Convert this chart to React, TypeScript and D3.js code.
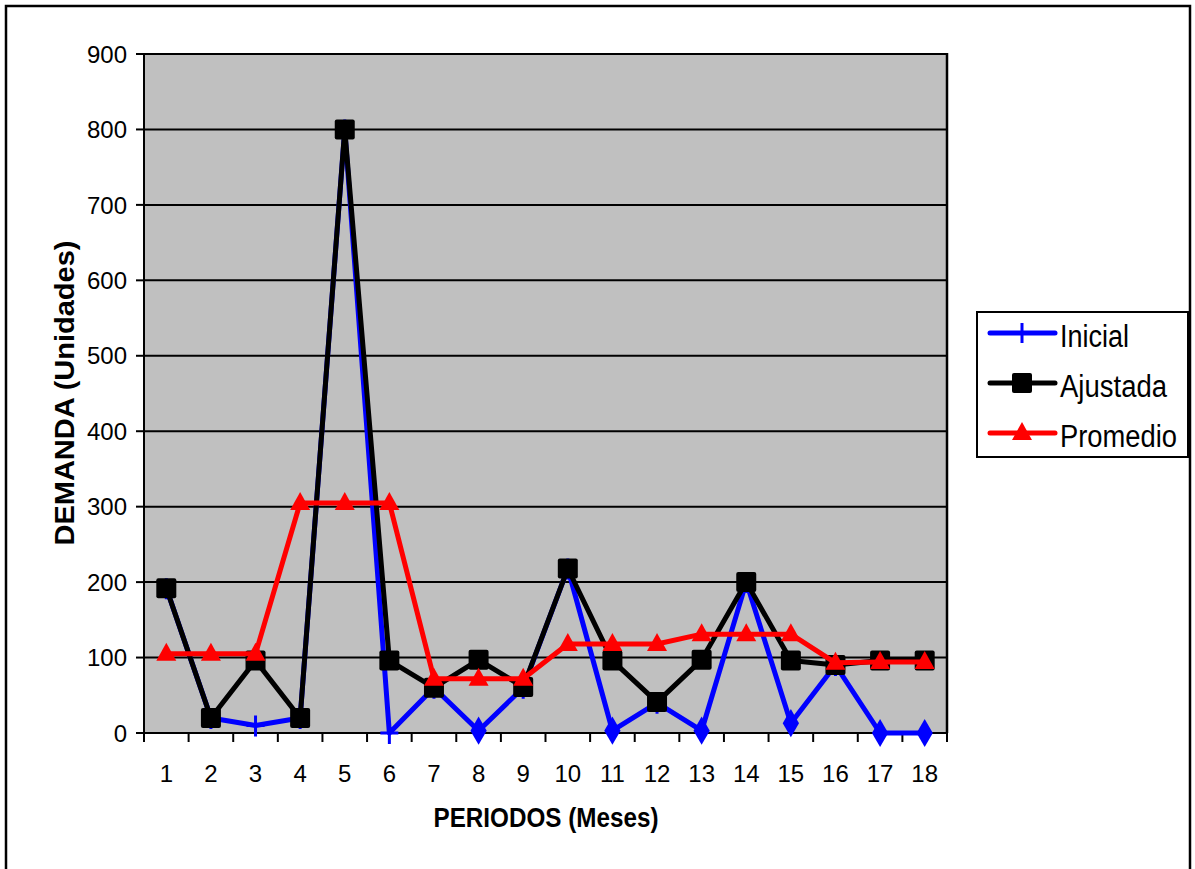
import React, { useEffect, useRef } from 'react';
import * as d3 from 'd3';

const periods = ['1', '2', '3', '4', '5', '6', '7', '8', '9', '10', '11', '12', '13', '14', '15', '16', '17', '18'];
const inicial = [192, 20, 10, 20, 800, 0, 60, 3, 60, 218, 3, 40, 3, 200, 13, 90, 0, 0];
const ajustada = [192, 20, 96, 20, 800, 96, 60, 97, 61, 218, 96, 41, 97, 200, 96, 90, 96, 96];
const promedio = [105, 105, 105, 305, 305, 305, 72, 72, 72, 118, 118, 118, 131, 131, 131, 93, 94, 94];
// periods where the Inicial point is drawn with a diamond instead of a plus
const diamondPeriods = ['8', '11', '13', '15', '17', '18'];
const yTicks = [0, 100, 200, 300, 400, 500, 600, 700, 800, 900];
const seriesNames = ['Inicial', 'Ajustada', 'Promedio'];

const FONT = '"Liberation Sans", Arial, sans-serif';

export default function App() {
  const svgRef = useRef<SVGSVGElement>(null);

  useEffect(() => {
    if (!svgRef.current) return;
    const W = 1195;
    const H = 869;
    const plot = { left: 144, right: 947, top: 54, bottom: 733 };

    d3.select(svgRef.current).selectAll('*').remove();
    const svg = d3.select(svgRef.current).attr('width', W).attr('height', H);

    // outer frame (bottom edge falls outside the picture)
    svg.append('path')
      .attr('d', `M6,${H + 5} V6 H1190 V${H + 5}`)
      .attr('fill', 'none')
      .attr('stroke', '#000')
      .attr('stroke-width', 2.5);

    const x = d3.scaleBand<string>().domain(periods).range([plot.left, plot.right]);
    const y = d3.scaleLinear().domain([0, 900]).range([plot.bottom, plot.top]);
    const cx = (p: string) => (x(p) as number) + x.bandwidth() / 2;

    // plot background
    svg.append('rect')
      .attr('x', plot.left)
      .attr('y', plot.top)
      .attr('width', plot.right - plot.left)
      .attr('height', plot.bottom - plot.top)
      .attr('fill', '#c0c0c0');

    // gridlines
    svg.append('g')
      .selectAll('line')
      .data(yTicks)
      .enter()
      .append('line')
      .attr('x1', plot.left)
      .attr('x2', plot.right)
      .attr('y1', d => y(d))
      .attr('y2', d => y(d))
      .attr('stroke', '#000')
      .attr('stroke-width', 2);

    // plot border right side
    svg.append('line')
      .attr('x1', plot.right).attr('x2', plot.right)
      .attr('y1', plot.top - 1).attr('y2', plot.bottom)
      .attr('stroke', '#000').attr('stroke-width', 2.5);

    // y axis
    const yAxis = svg.append('g');
    yAxis.append('line')
      .attr('x1', plot.left).attr('x2', plot.left)
      .attr('y1', plot.top - 1).attr('y2', plot.bottom + 1)
      .attr('stroke', '#000').attr('stroke-width', 2);
    yAxis.selectAll('line.tick')
      .data(yTicks)
      .enter()
      .append('line')
      .attr('class', 'tick')
      .attr('x1', plot.left - 8).attr('x2', plot.left)
      .attr('y1', d => y(d)).attr('y2', d => y(d))
      .attr('stroke', '#000').attr('stroke-width', 2);
    yAxis.selectAll('text')
      .data(yTicks)
      .enter()
      .append('text')
      .attr('x', 127)
      .attr('y', d => y(d))
      .attr('dy', '0.36em')
      .attr('text-anchor', 'end')
      .style('font-family', FONT)
      .style('font-size', '24px')
      .text(d => d);

    // x axis
    const xAxis = svg.append('g');
    const bounds = periods.map(p => x(p) as number).concat([plot.right]);
    xAxis.selectAll('line')
      .data(bounds)
      .enter()
      .append('line')
      .attr('x1', d => d).attr('x2', d => d)
      .attr('y1', plot.bottom).attr('y2', plot.bottom + 9)
      .attr('stroke', '#000').attr('stroke-width', 2);
    xAxis.selectAll('text')
      .data(periods)
      .enter()
      .append('text')
      .attr('x', d => cx(d))
      .attr('y', 773)
      .attr('dy', '0.36em')
      .attr('text-anchor', 'middle')
      .style('font-family', FONT)
      .style('font-size', '24px')
      .text(d => d);

    // axis titles
    svg.append('text')
      .attr('x', 546)
      .attr('y', 817)
      .attr('dy', '0.36em')
      .attr('text-anchor', 'middle')
      .attr('textLength', 225)
      .attr('lengthAdjust', 'spacingAndGlyphs')
      .style('font-family', FONT)
      .style('font-size', '27px')
      .style('font-weight', 'bold')
      .text('PERIODOS (Meses)');

    svg.append('text')
      .attr('transform', 'translate(64,393) rotate(-90)')
      .attr('dy', '0.36em')
      .attr('text-anchor', 'middle')
      .attr('textLength', 305)
      .attr('lengthAdjust', 'spacingAndGlyphs')
      .style('font-family', FONT)
      .style('font-size', '28px')
      .style('font-weight', 'bold')
      .text('DEMANDA (Unidades)');

    const line = (vals: number[]) =>
      d3.line<string>().x(d => cx(d)).y((_, i) => y(vals[i]))(periods) as string;

    const diamond = d3.symbol().type(d3.symbolDiamond).size(230);
    const triangle = 'M0,-11 L10,7 L-10,7 Z';

    // Inicial
    const gIni = svg.append('g');
    gIni.append('path')
      .attr('d', line(inicial))
      .attr('fill', 'none').attr('stroke', '#0000ff').attr('stroke-width', 5)
      .attr('stroke-linejoin', 'round');
    gIni.selectAll('g.mark')
      .data(periods)
      .enter()
      .append('g')
      .attr('transform', (d, i) => `translate(${cx(d)},${y(inicial[i])})`)
      .each(function (d) {
        const g = d3.select(this);
        if (diamondPeriods.includes(d)) {
          g.append('path').attr('d', diamond() as string).attr('fill', '#0000ff');
        } else {
          g.append('path')
            .attr('d', 'M-9,0 H9 M0,-10 V11')
            .attr('stroke', '#0000ff').attr('stroke-width', 3);
        }
      });

    // Ajustada
    const gAj = svg.append('g');
    gAj.append('path')
      .attr('d', line(ajustada))
      .attr('fill', 'none').attr('stroke', '#000').attr('stroke-width', 5)
      .attr('stroke-linejoin', 'round');
    gAj.selectAll('rect')
      .data(periods)
      .enter()
      .append('rect')
      .attr('x', d => cx(d) - 10)
      .attr('y', (_, i) => y(ajustada[i]) - 10)
      .attr('width', 20).attr('height', 20)
      .attr('rx', 2)
      .attr('fill', '#000');

    // Promedio
    const gPr = svg.append('g');
    gPr.append('path')
      .attr('d', line(promedio))
      .attr('fill', 'none').attr('stroke', '#ff0000').attr('stroke-width', 5)
      .attr('stroke-linejoin', 'round');
    gPr.selectAll('path.tri')
      .data(periods)
      .enter()
      .append('path')
      .attr('class', 'tri')
      .attr('transform', (d, i) => `translate(${cx(d)},${y(promedio[i])})`)
      .attr('d', triangle)
      .attr('fill', '#ff0000');

    // Legend
    const legend = svg.append('g');
    legend.append('rect')
      .attr('x', 977).attr('y', 312)
      .attr('width', 211).attr('height', 145)
      .attr('fill', '#fff').attr('stroke', '#000').attr('stroke-width', 2);
    const colors = ['#0000ff', '#000', '#ff0000'];
    const rowY = [333, 383, 433];
    const textLen = [69, 107, 117];
    seriesNames.forEach((name, i) => {
      const ly = rowY[i];
      legend.append('line')
        .attr('x1', 990).attr('x2', 1055)
        .attr('y1', ly).attr('y2', ly)
        .attr('stroke', colors[i]).attr('stroke-width', 5)
        .attr('stroke-linecap', 'round');
      if (i === 0) {
        legend.append('path')
          .attr('d', `M1022,${ly - 10} V${ly + 10}`)
          .attr('stroke', colors[i]).attr('stroke-width', 3);
      } else if (i === 1) {
        legend.append('rect')
          .attr('x', 1012).attr('y', ly - 10)
          .attr('width', 20).attr('height', 20).attr('rx', 2)
          .attr('fill', '#000');
      } else {
        legend.append('path')
          .attr('transform', `translate(1022,${ly})`)
          .attr('d', triangle)
          .attr('fill', colors[i]);
      }
      legend.append('text')
        .attr('x', 1060)
        .attr('y', ly + 3)
        .attr('dy', '0.36em')
        .attr('textLength', textLen[i])
        .attr('lengthAdjust', 'spacingAndGlyphs')
        .style('font-family', FONT)
        .style('font-size', '31px')
        .text(name);
    });
  }, []);

  return (
    <svg ref={svgRef} style={{ position: 'absolute', left: 0, top: 0, background: '#fff' }}></svg>
  );
}
